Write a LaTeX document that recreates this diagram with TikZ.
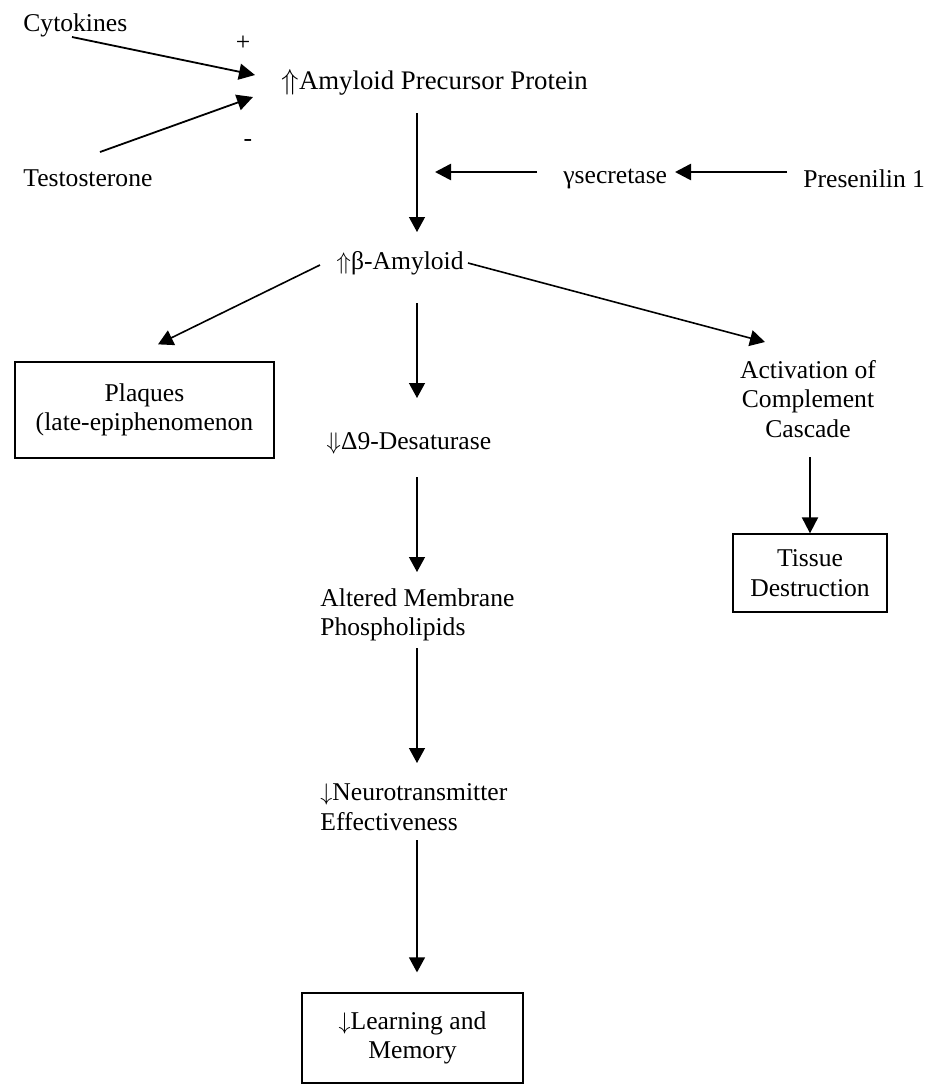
\documentclass[tikz,border=0pt]{standalone}
\usepackage{fontspec}
\setmainfont{Liberation Serif}
\usetikzlibrary{arrows.meta,calc}
\begin{document}
\begin{tikzpicture}[x=0.5pt,y=-0.5pt,
  txt/.style={inner sep=0pt,font=\fontsize{12.8}{14.8}\selectfont},
  box/.style={draw,line width=0.65pt,inner sep=0pt,font=\fontsize{12.8}{14.8}\selectfont,align=center},
  arr/.style={line width=0.65pt,-{Triangle[length=7.5pt,width=8pt]}},
  arrb/.style={line width=1.1pt,-{Triangle[length=8pt,width=8pt]}}]
\useasboundingbox (0,0) rectangle (942,1084);
% nodes
\node[txt,anchor=west] (cyt) at (23,25) {Cytokines};
\node[txt,anchor=west] (tes) at (23,178) {Testosterone};
\node[txt] (plus) at (243,43) {+};
\node[txt] (minus) at (248,143) {-};
\node[txt,anchor=west,font=\fontsize{13.4}{15}\selectfont] (app) at (281,82) {$\Uparrow$Amyloid Precursor Protein};
\node[txt,anchor=west] (gs) at (563,179) {γsecretase};
\node[txt,anchor=west] (ps) at (803,179) {Presenilin 1};
\node[txt,anchor=west] (ba) at (336,263) {$\Uparrow$β-Amyloid};
\node[box,minimum width=129.5pt,minimum height=48pt] (plq) at (144.5,410) {Plaques\\(late-epiphenomenon};
\node[txt,anchor=west] (des) at (326,443) {$\Downarrow$Δ9-Desaturase};
\node[txt,anchor=west,align=left] (alt) at (320,615) {Altered Membrane\\Phospholipids};
\node[txt,anchor=west,align=left] (neu) at (320,807) {$\downarrow$Neurotransmitter\\Effectiveness};
\node[txt,align=center] (act) at (808,399) {Activation of\\Complement\\Cascade};
\node[box,minimum width=77pt,minimum height=39pt] (tis) at (810,573) {Tissue\\Destruction};
\node[box,minimum width=110.5pt,minimum height=45pt] (lrn) at (412.5,1038) {$\downarrow$Learning and\\Memory};
% connectors
\draw[arrb,line width=0.9pt] ($(cyt.west)+(49,12)$) -- ($(app.west)+(-26,-7)$);
\draw[arrb,line width=0.9pt] ($(tes.west)+(77,-26)$) -- ($(app.west)+(-28,15)$);
\draw[arr] ($(app.west)+(136,31)$) -- ($(ba.west)+(81,-31)$);
\draw[arrb,line width=1.3pt] ($(gs.west)+(-26,-7)$) -- ($(gs.west)+(-128,-7)$);
\draw[arrb,line width=1.3pt] ($(ps.west)+(-16,-7)$) -- ($(ps.west)+(-128,-7)$);
\draw[arr,line width=0.8pt] ($(ba.west)+(-16,2)$) -- ($(plq.north)+(13.5,-17)$);
\draw[arr,line width=0.8pt] ($(ba.west)+(132,0)$) -- ($(act.center)+(-43,-57)$);
\draw[arr] ($(ba.west)+(81,40)$) -- ($(des.west)+(91,-45)$);
\draw[arr] ($(des.west)+(91,34)$) -- ($(alt.west)+(97,-43)$);
\draw[arr] ($(alt.west)+(97,33)$) -- ($(neu.west)+(97,-44)$);
\draw[arr] ($(neu.west)+(97,33)$) -- ($(lrn.north)+(4.5,-20)$);
\draw[arrb,line width=1pt] ($(act.center)+(2,58)$) -- (tis.north);
\end{tikzpicture}
\end{document}
